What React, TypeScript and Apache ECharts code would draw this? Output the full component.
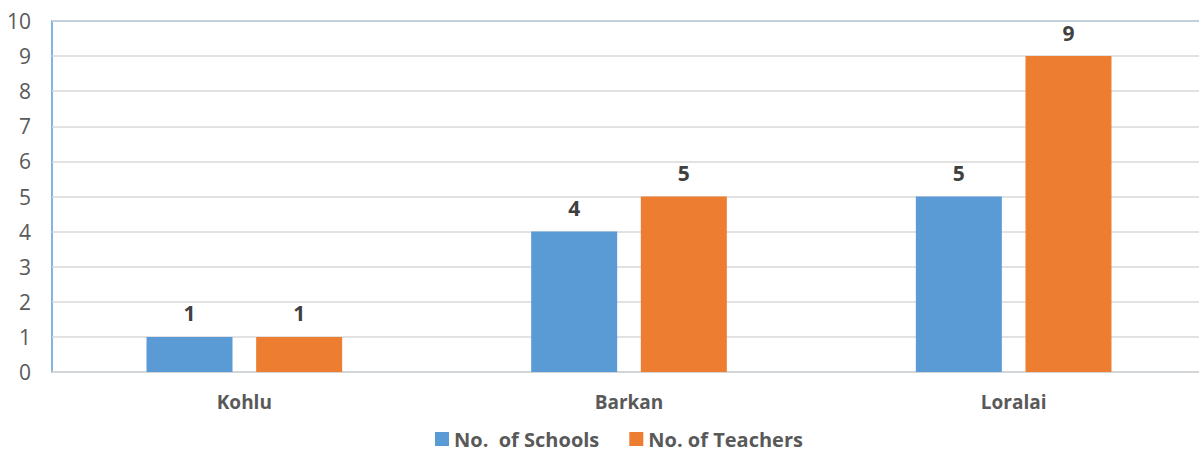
import React, { useEffect, useRef } from "react";
import * as echarts from "echarts";

const categories = ["Kohlu", "Barkan", "Loralai"];
const schools = [1, 4, 5];
const teachers = [1, 5, 9];
const seriesNames = ["No.  of Schools", "No. of Teachers"];

export default function App() {
  const ref = useRef<HTMLDivElement>(null);
  useEffect(() => {
    document.body.style.margin = "0";
    const chart = echarts.init(ref.current!, undefined, { renderer: "svg" });
    const font = "'Open Sans', sans-serif";
    const label = {
      show: true,
      position: "top" as const,
      distance: 13,
      fontSize: 21,
      fontWeight: "bold" as const,
      color: "#404040",
      fontFamily: font,
    };
    chart.setOption({
      animation: false,
      grid: {
        left: 52,
        top: 21,
        right: 4,
        height: 351,
        show: true,
        borderColor: "#5B9BD5",
        borderWidth: 1.5,
      },
      legend: {
        bottom: -3,
        left: 430,
        itemWidth: 14,
        itemHeight: 14,
        itemGap: 30,
        itemTextGap: 5,
        icon: "rect",
        textStyle: { fontSize: 20, fontWeight: "bold", color: "#595959", fontFamily: font },
        data: seriesNames,
      },
      xAxis: {
        type: "category",
        data: categories,
        axisTick: { show: false },
        axisLine: { show: true, lineStyle: { color: "#D9D9D9", width: 1.5 } },
        axisLabel: { fontSize: 19, fontWeight: "bold", color: "#595959", margin: 20, fontFamily: font },
      },
      yAxis: {
        type: "value",
        min: 0,
        max: 10,
        interval: 1,
        axisLine: { show: false },
        axisTick: { show: false },
        splitLine: { lineStyle: { color: "#D9D9D9", width: 1.5 } },
        axisLabel: { fontSize: 21, color: "#595959", margin: 21, fontFamily: font },
      },
      series: [
        {
          name: seriesNames[0],
          type: "bar",
          data: schools,
          barWidth: 86,
          barGap: "27.5%",
          itemStyle: { color: "#5B9BD5" },
          label,
        },
        {
          name: seriesNames[1],
          type: "bar",
          data: teachers,
          barWidth: 86,
          itemStyle: { color: "#ED7D31" },
          label,
        },
      ],
    });
    return () => chart.dispose();
  }, []);
  return (
    <div style={{ position: "absolute", left: 0, top: 0, width: 1199, height: 451, overflow: "hidden" }}>
      <div ref={ref} style={{ width: 1210, height: 451 }} />
    </div>
  );
}
